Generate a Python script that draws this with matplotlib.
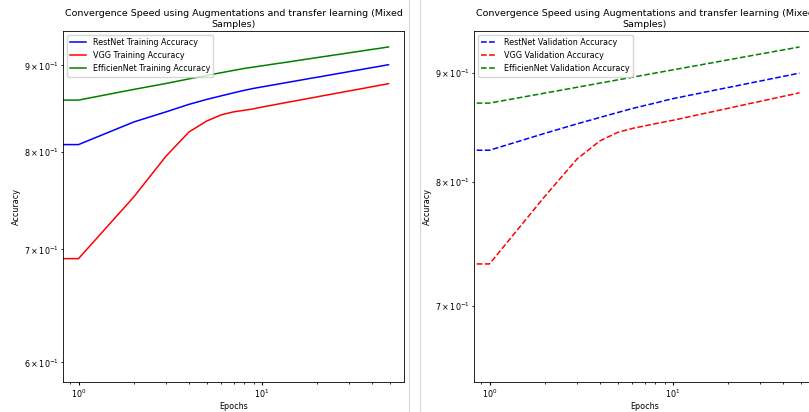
import numpy as np
import matplotlib
matplotlib.use("Agg")
import matplotlib.pyplot as plt
from matplotlib.lines import Line2D

# accuracy per epoch (epoch 0 .. 49)
epochs = np.arange(50)

resnet_train = [0.750, 0.8078, 0.8331, 0.8447, 0.8534, 0.8592, 0.8634, 0.8669, 0.8699, 0.8722,
                0.8740, 0.8756, 0.8770, 0.8784, 0.8796, 0.8808, 0.8819, 0.8829, 0.8839, 0.8848,
                0.8856, 0.8864, 0.8872, 0.8880, 0.8887, 0.8894, 0.8901, 0.8907, 0.8913, 0.8919,
                0.8925, 0.8931, 0.8936, 0.8941, 0.8946, 0.8951, 0.8956, 0.8961, 0.8965, 0.8970,
                0.8974, 0.8978, 0.8982, 0.8986, 0.8990, 0.8994, 0.8998, 0.9002, 0.9005, 0.9009]
vgg_train = [0.597, 0.6913, 0.7520, 0.7951, 0.8218, 0.8342, 0.8413, 0.8447, 0.8465, 0.8482,
             0.8503, 0.8519, 0.8534, 0.8548, 0.8561, 0.8572, 0.8584, 0.8594, 0.8604, 0.8613,
             0.8622, 0.8631, 0.8639, 0.8646, 0.8654, 0.8661, 0.8668, 0.8674, 0.8681, 0.8687,
             0.8693, 0.8698, 0.8704, 0.8709, 0.8714, 0.8720, 0.8724, 0.8729, 0.8734, 0.8738,
             0.8743, 0.8747, 0.8751, 0.8756, 0.8760, 0.8764, 0.8767, 0.8771, 0.8775, 0.8779]
eff_train = [0.800, 0.8584, 0.8710, 0.8781, 0.8836, 0.8878, 0.8911, 0.8939, 0.8963, 0.8980,
             0.8995, 0.9009, 0.9022, 0.9033, 0.9044, 0.9054, 0.9064, 0.9073, 0.9081, 0.9089,
             0.9097, 0.9104, 0.9111, 0.9117, 0.9124, 0.9130, 0.9135, 0.9141, 0.9146, 0.9152,
             0.9157, 0.9162, 0.9166, 0.9171, 0.9175, 0.9180, 0.9184, 0.9188, 0.9192, 0.9196,
             0.9200, 0.9203, 0.9207, 0.9210, 0.9214, 0.9217, 0.9220, 0.9224, 0.9227, 0.9230]

resnet_val = [0.750, 0.8280, 0.8432, 0.8519, 0.8578, 0.8624, 0.8661, 0.8689, 0.8712, 0.8735,
              0.8754, 0.8768, 0.8782, 0.8794, 0.8805, 0.8816, 0.8826, 0.8835, 0.8844, 0.8852,
              0.8860, 0.8867, 0.8874, 0.8881, 0.8888, 0.8894, 0.8900, 0.8906, 0.8912, 0.8917,
              0.8922, 0.8927, 0.8932, 0.8937, 0.8942, 0.8946, 0.8951, 0.8955, 0.8959, 0.8963,
              0.8967, 0.8971, 0.8974, 0.8978, 0.8982, 0.8985, 0.8989, 0.8992, 0.8995, 0.8998]
vgg_val = [0.656, 0.7324, 0.7877, 0.8202, 0.8364, 0.8441, 0.8477, 0.8500, 0.8520, 0.8537,
           0.8552, 0.8567, 0.8581, 0.8594, 0.8606, 0.8617, 0.8627, 0.8637, 0.8646, 0.8655,
           0.8663, 0.8671, 0.8679, 0.8686, 0.8693, 0.8699, 0.8706, 0.8712, 0.8718, 0.8723,
           0.8729, 0.8734, 0.8739, 0.8744, 0.8749, 0.8754, 0.8759, 0.8763, 0.8767, 0.8772,
           0.8776, 0.8780, 0.8784, 0.8788, 0.8791, 0.8795, 0.8799, 0.8802, 0.8806, 0.8809]
eff_val = [0.800, 0.8712, 0.8806, 0.8862, 0.8902, 0.8933, 0.8958, 0.8980, 0.8999, 0.9015,
           0.9030, 0.9043, 0.9056, 0.9067, 0.9077, 0.9087, 0.9096, 0.9105, 0.9113, 0.9121,
           0.9128, 0.9135, 0.9141, 0.9148, 0.9154, 0.9160, 0.9165, 0.9171, 0.9176, 0.9181,
           0.9186, 0.9190, 0.9195, 0.9199, 0.9204, 0.9208, 0.9212, 0.9216, 0.9219, 0.9223,
           0.9227, 0.9230, 0.9234, 0.9237, 0.9240, 0.9244, 0.9247, 0.9250, 0.9253, 0.9256]

title = "Convergence Speed using Augmentations and transfer learning (Mixed\nSamples)"

plt.rcParams.update({
    "font.size": 5.8,
    "xtick.major.size": 1.9, "ytick.major.size": 1.9,
    "xtick.minor.size": 1.1, "ytick.minor.size": 1.1,
    "xtick.major.pad": 1.9, "ytick.major.pad": 1.9,
    "xtick.minor.pad": 1.9, "ytick.minor.pad": 1.9,
    "axes.linewidth": 0.6,
})

W, H = 809, 412
fig = plt.figure(figsize=(W / 100, H / 100), dpi=100)
ax1 = fig.add_axes([63 / W, 30 / H, 341 / W, 351 / H])
ax2 = fig.add_axes([474 / W, 30 / H, 341 / W, 351 / H])

# training accuracy
ax1.plot(epochs, resnet_train, color="b", lw=1.1, label="RestNet Training Accuracy")
ax1.plot(epochs, vgg_train, color="r", lw=1.1, label="VGG Training Accuracy")
ax1.plot(epochs, eff_train, color="g", lw=1.1, label="EfficienNet Training Accuracy")

# validation accuracy
ax2.plot(epochs, resnet_val, "--", color="b", lw=1.1, label="RestNet Validation Accuracy")
ax2.plot(epochs, vgg_val, "--", color="r", lw=1.1, label="VGG Validation Accuracy")
ax2.plot(epochs, eff_val, "--", color="g", lw=1.1, label="EfficienNet Validation Accuracy")

for ax in (ax1, ax2):
    ax.set_xscale("log")
    ax.set_yscale("log")
    ax.set_title(title, fontsize=6.8, pad=3)
    ax.set_xlabel("Epochs", labelpad=2)
    ax.set_ylabel("Accuracy", labelpad=2)
    ax.legend(loc="upper left", fontsize=5.8)

# separator lines between the two panels
for xp in (408.5, 419.5):
    fig.add_artist(Line2D([xp / W, xp / W], [0, 1], transform=fig.transFigure,
                          color="#d8d8d8", lw=0.8))

fig.savefig("out.png", dpi=100)
